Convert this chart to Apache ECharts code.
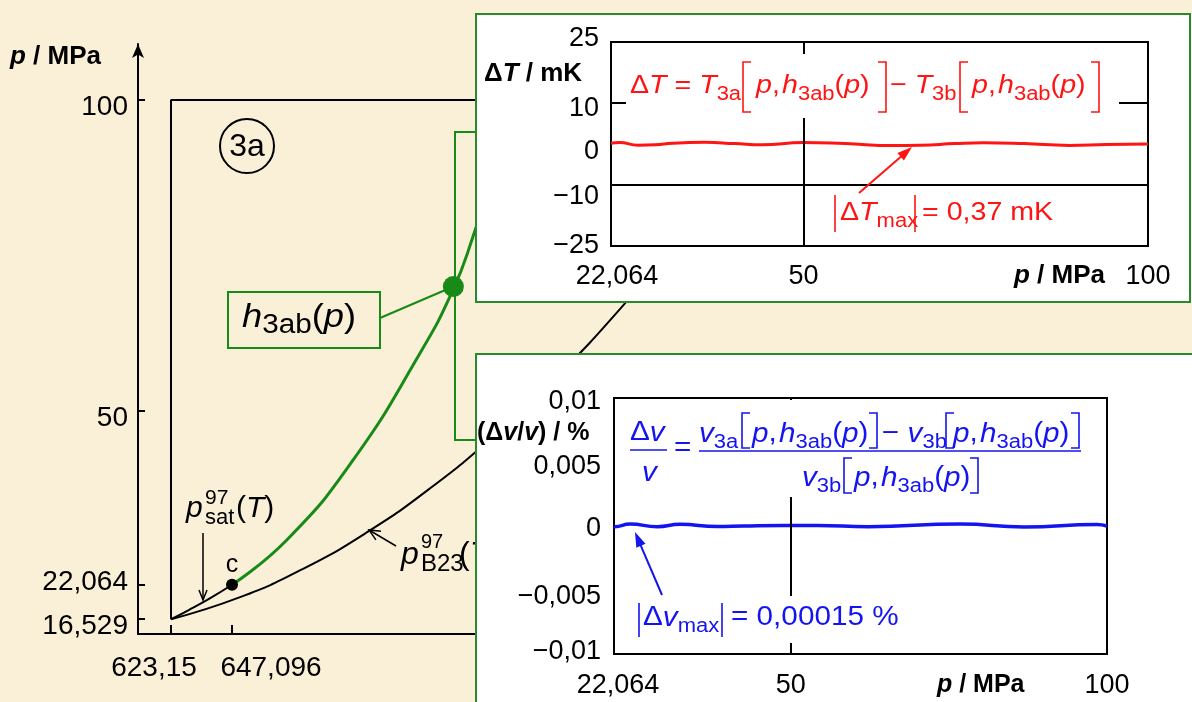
<!DOCTYPE html>
<html>
<head>
<meta charset="utf-8">
<title>IF97 region 3a / 3b boundary</title>
<script src="https://cdn.jsdelivr.net/npm/echarts@6.0.0/dist/echarts.min.js"></script>
<style>
  html, body { margin: 0; padding: 0; overflow: hidden; }
  body { width: 1192px; height: 702px; position: relative; background: #faf0d7; }
  .chart { position: absolute; }
  #main { left: 0; top: 0; width: 1192px; height: 702px; }
  #dT { left: 475px; top: 13px; width: 717px; height: 290px; background: #fff; }
  #dv { left: 475px; top: 353px; width: 717px; height: 349px; background: #fff; }
  .frame { position: absolute; box-sizing: border-box; border: 2px solid #2a8a2a; pointer-events: none; }
  #dTFrame { left: 475px; top: 13px; width: 716px; height: 290px; }
  #dvFrame { left: 475px; top: 353px; width: 760px; height: 400px; }
</style>
</head>
<body>
<div id="main" class="chart"></div>
<div id="dT" class="chart"></div>
<div id="dTFrame" class="frame"></div>
<div id="dv" class="chart"></div>
<div id="dvFrame" class="frame"></div>
<script>
// ---- main T-p diagram (T in K, p in MPa)
const mainTTicks = [623.15, 647.096];
const mainPTicks = [16.529, 22.064, 50, 100];
const regionT = [623.15, 623.15, 863.15];
const regionP = [16.529, 100, 100];
const satT = [623.15, 630.1, 638.9, 647.096];
const satP = [16.529, 18.0, 20.0, 22.064];
const b23T = [623.15, 650, 675, 700, 725, 750, 775, 800, 825, 850, 863.15];
const b23P = [16.529, 20.03, 24.62, 30.48, 37.61, 46.02, 55.7, 66.65, 78.89, 92.38, 100];
const h3abT = [647.096, 668.7, 694.6, 720.9, 733.9, 741.7, 749, 755, 758];
const h3abP = [22.064, 29.3, 42.1, 59.3, 69.5, 78.0, 87.5, 96, 100];
const critPoint = [647.096, 22.064];
const h3abPoint = [734.0, 70.0];

// ---- insets, p in MPa
const pTicks = [22.064, 50, 100];
const pGrid = [50];
const dTTicks = [-25, -10, 0, 10, 25];
const dTGrid = [-10, 10];
const dTP = [22.064, 23.3, 26, 28.5, 31, 35.7, 40, 44, 49.9, 56, 63, 67, 72, 76, 82, 88.6, 94, 100];
const dTVal = [0.2, 0.35, -0.3, -0.2, 0.2, 0.4, 0.1, -0.2, 0.35, 0.1, -0.37, -0.3, 0.1, 0.3, 0.1, -0.35, -0.1, 0];
const dvTicks = [-0.01, -0.005, 0, 0.005, 0.01];
const dvGrid = [-0.005, 0.005];
const dvP = [22.064, 22.2, 24.6, 28.9, 32.5, 38.4, 42.5, 48.8, 54.2, 62.2, 76.8, 86.9, 98.4, 100];
const dvVal = [-0.00003, -0.00005, 0.00015, -0.00005, 0.00013, -0.00004, 0, 0.00004, 0.00004, -0.00005, 0.00015, -0.00008, 0.00012, 0];

const FONT = '"Liberation Sans", Arial, Helvetica, sans-serif';
const RED = '#ff1414';
const BLUE = '#1414f0';
const GREEN = '#178a17';

function pairs(xs, ys) {
  return xs.map(function (x, i) { return [x, ys[i]]; });
}

function fmt(v) {
  return String(v).replace('.', ',').replace('-', '\u2212');
}

// rich styles used to nudge single tick labels
function offsetRich(size) {
  const r = { c: { fontFamily: FONT, fontSize: size, color: '#000' } };
  for (let k = 2; k <= 80; k += 2) {
    r['dn' + k] = { fontFamily: FONT, fontSize: size, color: '#000', padding: [k, 0, 0, 0] };
    r['up' + k] = { fontFamily: FONT, fontSize: size, color: '#000', padding: [0, 0, k, 0] };
    r['lf' + k] = { fontFamily: FONT, fontSize: size, color: '#000', padding: [0, 0, 0, k] };
    r['rt' + k] = { fontFamily: FONT, fontSize: size, color: '#000', padding: [0, k, 0, 0] };
  }
  return r;
}

function near(a, b) { return Math.abs(a - b) < 1e-9; }

// text styles for formulas
function fstyles(color, size, sub) {
  const lh = size + 10;
  return {
    n: { fontFamily: FONT, fontSize: size, fill: color, lineHeight: lh },
    i: { fontFamily: FONT, fontSize: size, fontStyle: 'italic', fill: color, lineHeight: lh },
    b: { fontFamily: FONT, fontSize: size, fontWeight: 'bold', fill: color, lineHeight: lh },
    bi: { fontFamily: FONT, fontSize: size, fontWeight: 'bold', fontStyle: 'italic', fill: color, lineHeight: lh },
    s: { fontFamily: FONT, fontSize: sub, fill: color, lineHeight: sub, verticalAlign: 'bottom' },
    sp: { fontFamily: FONT, fontSize: 7, fill: color, lineHeight: lh }
  };
}

function txt(x, y, text, rich, extra) {
  const el = {
    type: 'text', x: x, y: y, z: 12,
    style: { text: text, rich: rich, align: 'left', verticalAlign: 'middle' }
  };
  return Object.assign(el, extra || {});
}

function seg(x1, y1, x2, y2, color, w) {
  return { type: 'line', z: 12, shape: { x1: x1, y1: y1, x2: x2, y2: y2 }, style: { stroke: color, lineWidth: w } };
}

function bracket(x, y1, y2, dir, color) {
  const s = 8 * dir;
  return {
    type: 'polyline', z: 12,
    shape: { points: [[x + s, y1], [x, y1], [x, y2], [x + s, y2]] },
    style: { stroke: color, lineWidth: 1.6, fill: null }
  };
}

function arrow(x1, y1, x2, y2, color, w, len, half) {
  const a = Math.atan2(y2 - y1, x2 - x1);
  const c = Math.cos(a), s = Math.sin(a);
  const bx = x2 - len * c, by = y2 - len * s;
  return [
    seg(x1, y1, x2 - len * 0.6 * c, y2 - len * 0.6 * s, color, w),
    {
      type: 'polygon', z: 12,
      shape: { points: [[x2, y2], [bx + half * s, by - half * c], [bx - half * s, by + half * c]] },
      style: { fill: color }
    }
  ];
}

function openArrow(x1, y1, x2, y2, color, w, len, half) {
  const a = Math.atan2(y2 - y1, x2 - x1);
  const c = Math.cos(a), s = Math.sin(a);
  const bx = x2 - len * c, by = y2 - len * s;
  return [
    seg(x1, y1, x2, y2, color, w),
    {
      type: 'polyline', z: 12,
      shape: { points: [[bx + half * s, by - half * c], [x2, y2], [bx - half * s, by + half * c]] },
      style: { stroke: color, lineWidth: w, fill: null }
    }
  ];
}

// ================= main diagram =================
function initMain(dom) {
  const chart = echarts.init(dom, null, { renderer: 'canvas' });
  const blk = fstyles('#000', 30, 21);
  const lab = { b: { fontFamily: FONT, fontSize: 26, fontWeight: 'bold', fill: '#000' },
                bi: { fontFamily: FONT, fontSize: 26, fontWeight: 'bold', fontStyle: 'italic', fill: '#000' } };
  const h3 = fstyles('#000', 33, 27);

  var option = {
    animation: false,
    grid: { left: 138, top: 44, width: 662, height: 590 },
    xAxis: {
      type: 'value', min: 610.19, max: 870.1,
      axisLine: { show: true, onZero: false, lineStyle: { color: '#000', width: 2 } },
      axisTick: { show: true, inside: true, length: 9, customValues: mainTTicks, lineStyle: { color: '#000', width: 2 } },
      axisLabel: {
        customValues: mainTTicks, margin: 20,
        formatter: function (v) { return near(v, 623.15) ? '{rt34|' + fmt(v) + '}' : '{lf78|' + fmt(v) + '}'; },
        rich: offsetRich(28)
      },
      splitLine: { show: false }
    },
    yAxis: {
      type: 'value', min: 14.148, max: 109.003,
      axisLine: { show: true, onZero: false, symbol: ['none', 'arrow'], symbolSize: [9, 14], lineStyle: { color: '#000', width: 2 } },
      axisTick: { show: true, inside: true, length: 7, customValues: mainPTicks, lineStyle: { color: '#000', width: 2 } },
      axisLabel: {
        customValues: mainPTicks, margin: 10,
        formatter: function (v) { return near(v, 22.064) ? '{up4|' + fmt(v) + '}' : '{dn14|' + fmt(v) + '}'; },
        rich: offsetRich(28)
      },
      splitLine: { show: false }
    },
    series: [
      { type: 'line', data: pairs(regionT, regionP), symbol: 'none', lineStyle: { color: '#000', width: 2 } },
      { type: 'line', data: pairs(satT, satP), smooth: true, symbol: 'none', lineStyle: { color: '#000', width: 2 } },
      { type: 'line', data: pairs(b23T, b23P), smooth: true, symbol: 'none', lineStyle: { color: '#000', width: 2 } },
      { type: 'line', data: pairs(h3abT, h3abP), smooth: true, symbol: 'none', lineStyle: { color: GREEN, width: 3 } },
      { type: 'scatter', data: [critPoint], symbolSize: 12, itemStyle: { color: '#000', opacity: 1 }, z: 5 },
      { type: 'scatter', data: [h3abPoint], symbolSize: 21, itemStyle: { color: GREEN, opacity: 1 }, z: 5 }
    ],
    graphic: [
      { type: 'circle', shape: { cx: 247, cy: 146, r: 27 }, style: { fill: null, stroke: '#000', lineWidth: 2 } },
      { type: 'text', x: 247, y: 147, style: { text: '3a', font: '32px ' + FONT, fill: '#000', align: 'center', verticalAlign: 'middle' } },
      txt(10, 57, '{bi|p}{b| / MPa}', lab),
      // p_sat label
      txt(186, 509, '{i|p}', blk),
      { type: 'text', x: 205, y: 498, style: { text: '97', font: '21px ' + FONT, fill: '#000', verticalAlign: 'middle' } },
      { type: 'text', x: 205, y: 518, style: { text: 'sat', font: '22px ' + FONT, fill: '#000', verticalAlign: 'middle' } },
      txt(236, 509, '{n|(}{i|T}{n|)}', blk),
      { type: 'text', x: 232, y: 565, style: { text: 'c', font: '25px ' + FONT, fill: '#000', align: 'center', verticalAlign: 'middle' } },
      // p_B23 label
      txt(401, 555, '{i|p}', fstyles('#000', 32, 22)),
      { type: 'text', x: 421, y: 542, style: { text: '97', font: '20px ' + FONT, fill: '#000', verticalAlign: 'middle' } },
      { type: 'text', x: 421, y: 564, style: { text: 'B23', font: '24px ' + FONT, fill: '#000', verticalAlign: 'middle' } },
      txt(459, 555, '{n|(}{i|T}{n|)}', fstyles('#000', 32, 22)),
      // h3ab label box
      { type: 'rect', shape: { x: 228, y: 292, width: 152, height: 56 }, style: { fill: null, stroke: GREEN, lineWidth: 2 } },
      txt(242, 318, '{i|h}{s|3ab}{n|(}{i|p}{n|)}', h3, { scaleX: 1.1 }),
      seg(380, 318, 450, 288, GREEN, 2),
      { type: 'polyline', shape: { points: [[476, 132], [455, 132], [455, 440], [476, 440]] }, style: { stroke: GREEN, lineWidth: 2, fill: null } }
    ].concat(openArrow(203, 533, 203, 600, '#000', 1.5, 10, 4))
     .concat(openArrow(396, 546, 369, 530, '#000', 1.5, 11, 5))
  };

  chart.setOption(option);
  return chart;
}

// ================= inset: temperature difference =================
function initDT(dom) {
  const chart = echarts.init(dom, null, { renderer: 'canvas' });
  const red = fstyles(RED, 26, 20);
  const lab = { b: { fontFamily: FONT, fontSize: 26, fontWeight: 'bold', fill: '#000' },
                bi: { fontFamily: FONT, fontSize: 26, fontWeight: 'bold', fontStyle: 'italic', fill: '#000' } };
  const yShift = { '25': 'up6', '10': 'dn10', '0': 'dn16', '-10': 'dn24', '-25': 'c' };
  const sx = { scaleX: 1.1 };
  const hp = '{i|p}{n|,}{sp| }{i|h}{s|3ab}{n|(}{i|p}{n|)}';

  var option = {
    animation: false,
    grid: { left: 136, top: 29, width: 537, height: 204, show: true, borderColor: '#000', borderWidth: 2, backgroundColor: 'transparent' },
    xAxis: {
      type: 'value', min: 22.064, max: 100,
      axisLine: { show: false }, axisTick: { show: false }, splitLine: { show: false },
      axisLabel: {
        customValues: pTicks, margin: 17,
        formatter: function (v) { return near(v, 22.064) ? '{lf12|' + fmt(v) + '}' : '{c|' + fmt(v) + '}'; },
        rich: offsetRich(27)
      }
    },
    yAxis: {
      type: 'value', min: -25, max: 25,
      axisLine: { show: false }, axisTick: { show: false }, splitLine: { show: false },
      axisLabel: {
        customValues: dTTicks, margin: 12,
        formatter: function (v) { return '{' + yShift[String(v)] + '|' + fmt(v) + '}'; },
        rich: offsetRich(27)
      }
    },
    series: [{
      type: 'line', data: pairs(dTP, dTVal), smooth: true, symbol: 'none',
      lineStyle: { color: RED, width: 3 }, z: 3,
      markLine: {
        silent: true, symbol: 'none', label: { show: false },
        lineStyle: { color: '#000', width: 2, type: 'solid' },
        data: dTGrid.map(function (v) { return { yAxis: v }; }).concat(pGrid.map(function (v) { return { xAxis: v }; }))
      }
    }],
    graphic: [
      { type: 'rect', z: 10, shape: { x: 151, y: 41, width: 493, height: 64 }, style: { fill: '#fff' } },
      txt(155, 73, '{n|Δ}{i|T}{n| = }{i|T}{s|3a}', red, sx),
      bracket(268, 49, 99, 1, RED),
      txt(281, 73, hp, red, sx),
      bracket(411, 49, 99, -1, RED),
      txt(415, 73, '{n|− }{i|T}{s|3b}', red, sx),
      bracket(485, 49, 99, 1, RED),
      txt(497, 73, hp, red, sx),
      bracket(624, 49, 99, -1, RED),
      txt(9, 61, '{b|Δ}{bi|T}{b| / mK}', lab),
      txt(539, 263, '{bi|p}{b| / MPa}', lab),
      seg(360, 182, 360, 219, RED, 1.6),
      txt(365, 200, '{n|Δ}{i|T}{s|max}', red, sx),
      seg(440, 182, 440, 219, RED, 1.6),
      txt(447, 200, '{n|= 0,37 mK}', red, sx)
    ].concat(arrow(384, 180, 437, 134, RED, 2, 15, 5))
  };

  chart.setOption(option);
  return chart;
}

// ================= inset: relative volume difference =================
function initDv(dom) {
  const chart = echarts.init(dom, null, { renderer: 'canvas' });
  const blue = fstyles(BLUE, 27, 20);
  const lab = { b: { fontFamily: FONT, fontSize: 25, fontWeight: 'bold', fill: '#000' },
                bi: { fontFamily: FONT, fontSize: 25, fontWeight: 'bold', fontStyle: 'italic', fill: '#000' } };
  const yShift = { '0.01': 'dn8', '0.005': 'dn10', '0': 'dn6', '-0.005': 'dn14', '-0.01': 'up4' };
  const sx = { scaleX: 1.1 };
  const hp = '{i|p}{n|,}{sp| }{i|h}{s|3ab}{n|(}{i|p}{n|)}';

  var option = {
    animation: false,
    grid: { left: 139, top: 45, width: 493, height: 256, show: true, borderColor: '#000', borderWidth: 2, backgroundColor: 'transparent' },
    xAxis: {
      type: 'value', min: 22.064, max: 100,
      axisLine: { show: false }, axisTick: { show: false }, splitLine: { show: false },
      axisLabel: {
        customValues: pTicks, margin: 18,
        formatter: function (v) { return near(v, 22.064) ? '{lf8|' + fmt(v) + '}' : '{c|' + fmt(v) + '}'; },
        rich: offsetRich(27)
      }
    },
    yAxis: {
      type: 'value', min: -0.01, max: 0.01,
      axisLine: { show: false }, axisTick: { show: false }, splitLine: { show: false },
      axisLabel: {
        customValues: dvTicks, margin: 13,
        formatter: function (v) { return '{' + (yShift[String(v)] || 'c') + '|' + fmt(v) + '}'; },
        rich: offsetRich(27)
      }
    },
    series: [{
      type: 'line', data: pairs(dvP, dvVal), smooth: true, symbol: 'none',
      lineStyle: { color: BLUE, width: 3.5 }, z: 3,
      markLine: {
        silent: true, symbol: 'none', label: { show: false },
        lineStyle: { color: '#000', width: 2, type: 'solid' },
        data: dvGrid.map(function (v) { return { yAxis: v }; }).concat(pGrid.map(function (v) { return { xAxis: v }; }))
      }
    }],
    graphic: [
      { type: 'rect', z: 10, shape: { x: 151, y: 47, width: 460, height: 97 }, style: { fill: '#fff' } },
      { type: 'rect', z: 10, shape: { x: 155, y: 243, width: 262, height: 47 }, style: { fill: '#fff' } },
      // left side fraction
      txt(155, 80, '{n|Δ}{i|v}', blue, sx),
      seg(155, 97, 192, 97, BLUE, 1.6),
      txt(167, 120, '{i|v}', blue, sx),
      txt(199, 96, '{n|=}', blue, sx),
      // numerator
      txt(224, 81, '{i|v}{s|3a}', blue, sx),
      bracket(267, 60, 95, 1, BLUE),
      txt(277, 81, hp, blue, sx),
      bracket(402, 60, 95, -1, BLUE),
      txt(407, 81, '{n|− }{i|v}{s|3b}', blue, sx),
      bracket(471, 60, 95, 1, BLUE),
      txt(478, 81, hp, blue, sx),
      bracket(604, 60, 95, -1, BLUE),
      seg(224, 98, 606, 98, BLUE, 1.6),
      // denominator
      txt(327, 125, '{i|v}{s|3b}', blue, sx),
      bracket(369, 105, 140, 1, BLUE),
      txt(379, 125, hp, blue, sx),
      bracket(503, 105, 140, -1, BLUE),
      txt(2, 80, '{b|(Δ}{bi|v}{b|/}{bi|v}{b|) / %}', lab),
      txt(462, 332, '{bi|p}{b| / MPa}', lab),
      seg(164, 250, 164, 284, BLUE, 1.6),
      txt(168, 265, '{n|Δ}{i|v}{s|max}', blue, sx),
      seg(247, 250, 247, 284, BLUE, 1.6),
      txt(256, 265, '{n|= 0,00015 %}', blue, sx)
    ].concat(arrow(187, 242, 160, 179, BLUE, 2, 15, 5))
  };

  chart.setOption(option);
  return chart;
}

initMain(document.getElementById('main'));
initDT(document.getElementById('dT'));
initDv(document.getElementById('dv'));
</script>
</body>
</html>
